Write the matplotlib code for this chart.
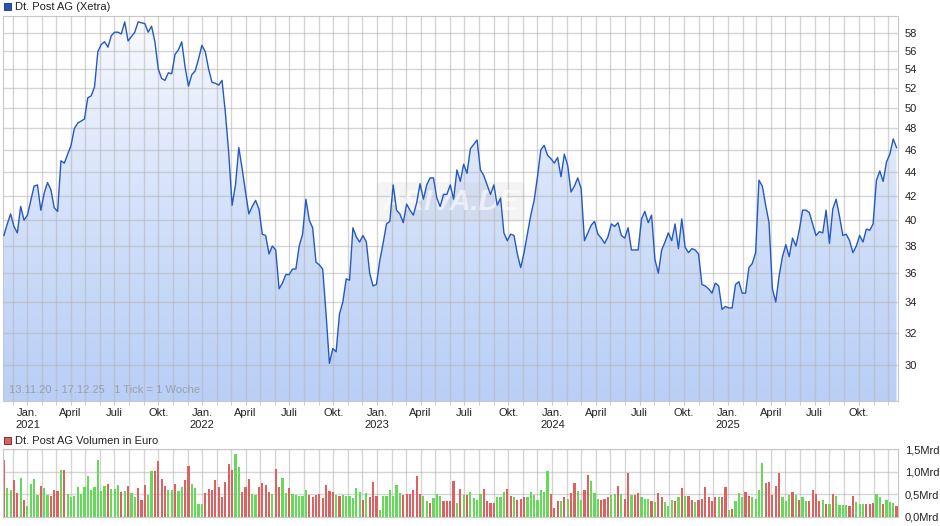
import numpy as np
import pandas as pd
import matplotlib
matplotlib.use('Agg')
import matplotlib.pyplot as plt
import matplotlib.dates as mdates
from matplotlib.patches import Rectangle
from matplotlib.colors import LinearSegmentedColormap
from matplotlib.ticker import FixedLocator, FuncFormatter, NullLocator, NullFormatter

plt.rcParams['font.family'] = ['Liberation Sans', 'DejaVu Sans']

# weekly closing prices (EUR), 13.11.20 - 17.12.25
price = [
    38.8, 39.7, 40.5, 39.5, 39.0, 41.1, 40.0, 40.4, 41.6, 42.8,
    42.9, 40.8, 42.2, 43.1, 42.5, 41.0, 40.7, 45.0, 44.8, 45.6,
    46.4, 48.0, 48.5, 48.7, 48.9, 51.0, 51.2, 52.1, 55.9, 56.7,
    57.0, 56.4, 57.7, 58.1, 58.1, 57.9, 59.3, 57.1, 57.6, 58.1,
    59.3, 59.2, 59.1, 58.1, 58.8, 57.0, 54.0, 53.0, 52.8, 53.6,
    53.5, 55.6, 56.1, 57.0, 54.2, 52.2,
    53.4, 53.8, 55.1, 56.6, 55.9, 54.0, 52.6, 52.5, 52.3, 52.8,
    49.5, 45.7, 41.2, 42.9, 46.2, 44.3, 42.3, 40.5, 41.1, 41.6,
    40.9, 38.9, 38.8, 37.4, 38.0, 37.7, 34.9, 35.3, 35.9, 35.9,
    36.3, 36.3, 38.0, 38.9, 41.7, 40.0, 39.4, 36.8, 36.6, 36.3,
    33.2, 30.1, 31.0, 30.8, 33.2, 34.0, 35.6, 35.5, 39.4, 38.7,
    38.3, 38.8, 38.3, 36.0, 35.1,
    35.2, 36.9, 38.2, 39.7, 39.9, 42.9, 40.8, 40.5, 39.8, 41.3,
    40.8, 40.4, 41.4, 43.0, 41.7, 42.9, 43.5, 43.5, 41.8, 41.1,
    42.1, 42.1, 42.9, 41.7, 44.2, 43.2, 44.7, 43.9, 46.1, 46.5,
    46.9, 44.2, 43.7, 42.9, 42.1, 42.9, 41.2, 41.8, 39.0, 38.4,
    38.9, 38.8, 37.4, 36.4, 37.5, 38.9, 40.4, 41.6, 43.6, 46.0,
    46.4, 45.5, 45.2, 44.8, 45.3,
    43.6, 45.6, 44.6, 42.3, 42.8, 43.5, 42.6, 38.4, 39.0, 39.6,
    39.9, 38.9, 38.6, 38.2, 38.7, 39.7, 39.5, 39.8, 38.8, 38.6,
    39.4, 37.7, 37.7, 37.7, 40.1, 40.7, 39.8, 40.4, 37.0, 36.0,
    37.7, 38.3, 39.0, 38.4, 39.7, 37.8, 40.1, 37.9, 37.5, 37.8,
    37.7, 37.4, 35.2, 35.1, 34.9, 34.6, 35.3, 35.1, 33.5, 33.7,
    33.6, 33.6, 35.2, 35.4, 34.6, 34.6,
    36.4, 36.7, 37.5, 43.3, 42.8, 41.2, 39.8, 34.9, 34.0, 35.8,
    37.2, 38.1, 37.2, 38.6, 38.0, 39.2, 40.8, 40.8, 40.6, 39.7,
    38.8, 39.1, 39.0, 40.8, 38.2, 40.9, 41.7, 40.3, 38.8, 38.9,
    38.4, 37.5, 38.0, 38.8, 38.3, 39.3, 39.2, 39.7, 43.3, 44.1,
    43.2, 44.9, 45.6, 47.0, 46.2,
]

# weekly turnover in Mrd EUR
volume = [
    1.27, 0.63, 0.60, 0.82, 0.52, 0.86, 0.37, 0.24, 0.73, 0.84,
    0.49, 0.69, 0.63, 0.49, 0.46, 0.60, 0.57, 1.04, 1.03, 0.51,
    0.43, 0.46, 0.65, 0.50, 0.65, 0.91, 0.60, 0.66, 1.27, 0.58,
    0.69, 0.73, 0.62, 0.62, 0.71, 0.54, 0.57, 0.69, 0.52, 0.43,
    0.63, 0.37, 0.71, 0.49, 1.01, 1.01, 1.23, 0.84, 0.69, 0.60,
    0.60, 0.73, 0.57, 0.66, 0.81, 1.13, 0.73, 0.63, 0.28, 0.28,
    0.52, 0.61, 0.60, 0.82, 0.66, 0.43, 0.77, 1.18, 1.04, 1.40,
    1.10, 0.54, 0.66, 0.84, 0.51, 0.49, 0.66, 0.75, 0.71, 0.56,
    0.51, 1.07, 0.66, 0.86, 0.52, 0.63, 0.51, 0.49, 0.46, 0.46,
    0.60, 0.49, 0.43, 0.49, 0.51, 0.41, 0.71, 0.58, 0.54, 0.49,
    0.45, 0.49, 0.45, 0.46, 0.41, 0.63, 0.56, 0.37, 0.52, 0.43,
    0.78, 0.46, 0.16, 0.46, 0.46, 0.60, 0.46, 0.71, 0.52, 0.49,
    0.51, 0.50, 0.60, 0.91, 0.51, 0.46, 0.36, 0.31, 0.41, 0.51,
    0.45, 0.36, 0.36, 0.36, 0.80, 0.31, 0.62, 0.49, 0.49, 0.56,
    0.41,
    0.37, 0.51, 0.62, 0.36, 0.31, 0.31, 0.43, 0.43, 0.54, 0.62,
    0.46, 0.43, 0.37, 0.40, 0.43, 0.43, 0.56, 0.49, 0.37, 0.60,
    0.56, 1.01, 0.51, 0.20, 0.35, 0.35, 0.43, 0.40, 0.52, 0.76,
    0.58, 0.37, 0.60, 0.93, 0.80, 0.52, 0.40, 0.37, 0.40, 0.43,
    0.49, 0.51, 0.69, 0.51, 0.40, 0.97, 0.49, 0.49, 0.52, 0.43,
    0.40, 0.40, 0.35, 0.32, 0.52, 0.43, 0.32, 0.24, 0.37, 0.35,
    0.43, 0.63, 0.46, 0.46, 0.37, 0.32, 0.37, 0.40, 0.66, 0.43,
    0.36, 0.43, 0.43, 0.43, 0.66, 0.15, 0.17, 0.35, 0.52, 0.43,
    0.54, 0.46, 0.43, 0.40, 0.60, 1.19, 0.75, 0.77, 0.49, 0.69,
    0.97, 0.43, 0.34, 0.49, 0.54, 0.49, 0.37, 0.43, 0.35, 0.35,
    0.60, 0.51, 0.35, 0.37, 0.28, 0.28, 0.51, 0.46, 0.26, 0.26,
    0.26, 0.24, 0.46, 0.32, 0.28, 0.28, 0.28, 0.28, 0.31, 0.51,
    0.43, 0.28, 0.37, 0.32, 0.30, 0.24,
]

# g = week closed up, r = week closed down
vol_dir = (
    "rggrrgrggg" "grggrrrgrg" "gggggggggg" "grgggrgrgg" "rrrggrrrrg"
    "grggrrgggg" "rrrrrrrrrg" "grrrggrrrr" "grrggrgggg" "grrrrrrrrg"
    "rggggggrgr" "rrgggggggr" "rrrrrggrgg" "grrrrgrgrg" "g"
    "ggrrrrgggr" "rgrrrggggg" "ggrrrgrgrr" "ggrrgggrrr" "ggrgrrgrrg"
    "ggrgrrgggr" "grgrrgrrrr" "rrgrrgrggg" "rrggggrrrr" "rgggrgrggr"
    "rrrgrgrggg" "grrgggrrrg" "grgggr"
)

dates = pd.date_range('2020-11-13', periods=len(price), freq='7D')
vdates = pd.date_range('2020-11-13', periods=len(volume), freq='7D')

blue = '#2459c2'
green = '#66d95a'
red = '#dc6262'
grid_c = '#b4b4b4'
spine_c = '#c8c8c8'

W, H = 940, 526
fig = plt.figure(figsize=(W / 100, H / 100), dpi=100)

def fr(x0, y0, x1, y1):
    # pixel box (top-left origin) -> figure fraction rect
    return [x0 / W, 1 - y1 / H, (x1 - x0) / W, (y1 - y0) / H]

xmin = pd.Timestamp('2020-11-10 12:00')
xmax = pd.Timestamp('2025-12-22')
ylo, yhi = 27.93, 60.0

month_names = {1: 'Jan.', 4: 'April', 7: 'Juli', 10: 'Okt.'}

def month_fmt(x, pos):
    d = mdates.num2date(x)
    s = month_names.get(d.month, '')
    if d.month == 1:
        s += '\n%d' % d.year
    return s

# ---- price panel
ax = fig.add_axes(fr(2.7, 16, 898, 401))
ax.set_yscale('log')
coll = ax.fill_between(dates, price, ylo, color='none', lw=0)
ax.plot(dates, price, color=blue, lw=1.0, zorder=3)
ax.set_xlim(xmin, xmax)
ax.set_ylim(ylo, yhi)

grad = np.linspace(0, 1, 256).reshape(-1, 1)
cmap = LinearSegmentedColormap.from_list('g', ['#fbfcff', '#b9cff6'])
x0n, x1n = mdates.date2num(xmin), mdates.date2num(xmax)
img = ax.imshow(grad, extent=(x0n, x1n, ylo, yhi), origin='upper', aspect='auto',
                cmap=cmap, zorder=1, interpolation='bilinear')
img.set_clip_path(coll.get_paths()[0], transform=coll.get_transform())
ax.set_xlim(xmin, xmax)
ax.set_ylim(ylo, yhi)

ax.yaxis.set_major_locator(FixedLocator(list(range(30, 60, 2))))
ax.yaxis.set_minor_locator(NullLocator())
ax.yaxis.set_major_formatter(FuncFormatter(lambda v, p: '%d' % v))
ax.yaxis.set_minor_formatter(NullFormatter())
ax.yaxis.tick_right()
ax.tick_params(axis='y', length=0, pad=5, labelsize=8, colors='#222222')

ax.xaxis.set_major_locator(mdates.MonthLocator(bymonth=[1, 4, 7, 10]))
ax.xaxis.set_minor_locator(mdates.MonthLocator())
ax.xaxis.set_major_formatter(FuncFormatter(month_fmt))
ax.tick_params(axis='x', which='both', length=3, pad=2, labelsize=8,
               color=spine_c, labelcolor='#222222')

ax.set_axisbelow(False)
ax.grid(True, axis='x', which='both', color=grid_c, alpha=0.55, lw=1)
ax.grid(True, axis='y', which='major', color=grid_c, alpha=0.55, lw=1)
for s in ax.spines.values():
    s.set_color(spine_c)

# faint site watermark
ax.text(0.5007, 0.517, 'ARIVA.DE', transform=ax.transAxes, ha='center', va='center',
        fontsize=21, fontweight='bold', style='italic', color='white', alpha=0.6,
        zorder=2.6, bbox=dict(boxstyle='round,pad=0.2', fc='#c8c8c8', ec='none', alpha=0.2))

ax.text(6 / 895.3, 6 / 385, '13.11.20 - 17.12.25   1 Tick = 1 Woche', transform=ax.transAxes,
        ha='left', va='bottom', fontsize=8, color='#9aa0a8', zorder=4)

# ---- volume panel
ax2 = fig.add_axes(fr(2.7, 449.3, 898, 516.7))
cols = [green if c == 'g' else red for c in vol_dir]
ax2.bar(vdates, volume, width=4.6, color=cols, zorder=2, lw=0)
ax2.set_xlim(xmin, xmax)
ax2.set_ylim(0, 1.5)
ax2.yaxis.set_major_locator(FixedLocator([0, 0.5, 1.0, 1.5]))
ax2.yaxis.set_major_formatter(FuncFormatter(lambda v, p: ('%.1fMrd' % v).replace('.', ',')))
ax2.yaxis.tick_right()
ax2.tick_params(axis='y', length=0, pad=5, labelsize=8, colors='#222222')
ax2.xaxis.set_major_locator(mdates.MonthLocator())
ax2.xaxis.set_major_formatter(NullFormatter())
ax2.tick_params(axis='x', length=0)
ax2.set_axisbelow(True)
ax2.grid(True, axis='both', color=grid_c, alpha=0.55, lw=1)
for s in ax2.spines.values():
    s.set_color(spine_c)

# ---- legend markers
fig.patches.append(Rectangle((3.5 / W, 1 - 10 / H), 7 / W, 7 / H, transform=fig.transFigure,
                             fc='#2156b8', ec='#1a2f60', lw=0.6))
fig.text(15 / W, 1 - 6.5 / H, 'Dt. Post AG (Xetra)', fontsize=8, va='center', ha='left', color='#222222')
fig.patches.append(Rectangle((3.5 / W, 1 - 444 / H), 7 / W, 7 / H, transform=fig.transFigure,
                             fc=red, ec='#5a2020', lw=0.6))
fig.text(15 / W, 1 - 440.5 / H, 'Dt. Post AG Volumen in Euro', fontsize=8, va='center', ha='left', color='#222222')

fig.savefig('out.png', dpi=100)
